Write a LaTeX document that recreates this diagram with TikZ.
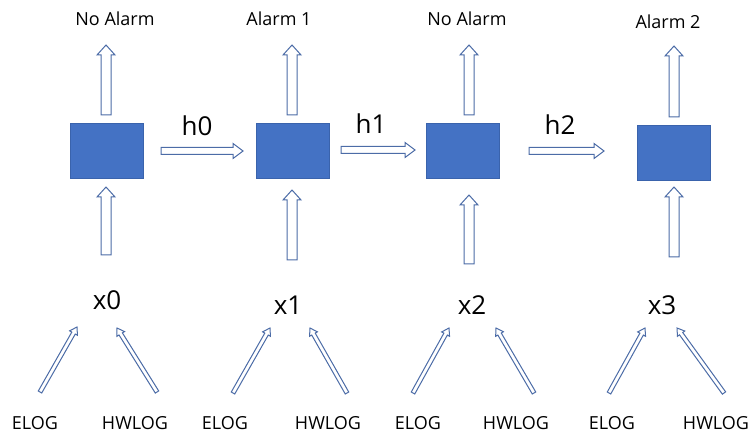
\documentclass[tikz,border=0pt]{standalone}
\usepackage{fontspec}
\setmainfont{Open Sans}
\usetikzlibrary{calc}
\definecolor{cellblue}{HTML}{4472C4}
\definecolor{celledge}{HTML}{3A63AC}
\definecolor{arrowedge}{HTML}{4C6CA7}
\tikzset{
  cell/.style={draw=celledge, line width=0.8pt, fill=cellblue, minimum width=73pt, minimum height=55pt, inner sep=0pt},
  small/.style={font=\fontsize{18}{20}\selectfont, inner sep=0pt},
  big/.style={font=\fontsize{26}{28}\selectfont, inner sep=0pt},
  barrow/.style={draw=arrowedge, line width=1pt, fill=white, line join=miter}
}
% hollow block arrow: start, end, shaft half-width, head half-width, head length
\newcommand{\blockarrow}[5]{%
  \coordinate (ba-n) at ($(#2)!#5!(#1)$);
  \draw[barrow] ($(#1)!#3!90:(#2)$) -- ($(ba-n)!#3!90:(#2)$) -- ($(ba-n)!#4!90:(#2)$)
    -- (#2) -- ($(ba-n)!#4!-90:(#2)$) -- ($(ba-n)!#3!-90:(#2)$) -- ($(#1)!#3!-90:(#2)$) -- cycle;
}
\begin{document}
\begin{tikzpicture}[x=1pt, y=-1pt]
\useasboundingbox (0,0) rectangle (751,435);

% recurrent cells
\node[cell] (c0) at (106.5,150.5) {};
\node[cell] (c1) at (292.5,150.5) {};
\node[cell] (c2) at (463,151) {};
\node[cell] (c3) at (674,152.5) {};

% outputs
\node[small] (o0) at (115,19) {No Alarm};
\node[small] (o1) at (279,19) {Alarm 1};
\node[small] (o2) at (467,19) {No Alarm};
\node[small] (o3) at (668,22) {Alarm 2};

% hidden states
\node[big] (h0) at (197,126) {h0};
\node[big] (h1) at (371,124) {h1};
\node[big] (h2) at (560,125) {h2};

% inputs
\node[big] (x0) at (107,300) {x0};
\node[big] (x1) at (288,305) {x1};
\node[big] (x2) at (472,305) {x2};
\node[big] (x3) at (662,305) {x3};

% log sources
\foreach \i/\ex/\wx in {0/35/135, 1/225/328, 2/418/516, 3/612/716}{
  \node[small] (e\i) at (\ex,423) {ELOG};
  \node[small] (w\i) at (\wx,423) {HWLOG};
}

% arrow end points
\coordinate (oa0) at (106,115); \coordinate (ob0) at (106,45);
\coordinate (oa1) at (292,115); \coordinate (ob1) at (292,45);
\coordinate (oa2) at (469,115); \coordinate (ob2) at (469,45);
\coordinate (oa3) at (674,117); \coordinate (ob3) at (674,46);

\coordinate (ia0) at (106,255); \coordinate (ib0) at (106,187);
\coordinate (ia1) at (292,260); \coordinate (ib1) at (292,190);
\coordinate (ia2) at (469,264); \coordinate (ib2) at (469,195);
\coordinate (ia3) at (674,257); \coordinate (ib3) at (674,187);

\coordinate (ha0) at (161,151); \coordinate (hb0) at (243,151);
\coordinate (ha1) at (341,150); \coordinate (hb1) at (415,150);
\coordinate (ha2) at (529,151); \coordinate (hb2) at (604,151);

\coordinate (ea0) at (40,392);  \coordinate (eb0) at (77,327);
\coordinate (wa0) at (157,392); \coordinate (wb0) at (117,328);
\coordinate (ea1) at (233,393); \coordinate (eb1) at (270,328);
\coordinate (wa1) at (347,393); \coordinate (wb1) at (310,328);
\coordinate (ea2) at (413,393); \coordinate (eb2) at (449,328);
\coordinate (wa2) at (534,393); \coordinate (wb2) at (496,328);
\coordinate (ea3) at (609,393); \coordinate (eb3) at (645,328);
\coordinate (wa3) at (724,393); \coordinate (wb3) at (677,328);

% cell outputs and inputs
\foreach \i in {0,1,2,3}{
  \blockarrow{oa\i}{ob\i}{5pt}{9pt}{10pt}
  \blockarrow{ia\i}{ib\i}{5pt}{9pt}{10pt}
  \blockarrow{ea\i}{eb\i}{2pt}{4.5pt}{7pt}
  \blockarrow{wa\i}{wb\i}{2pt}{4.5pt}{7pt}
}
% hidden-state transfers
\foreach \i in {0,1,2}{
  \blockarrow{ha\i}{hb\i}{3.5pt}{7.5pt}{10pt}
}
\end{tikzpicture}
\end{document}
